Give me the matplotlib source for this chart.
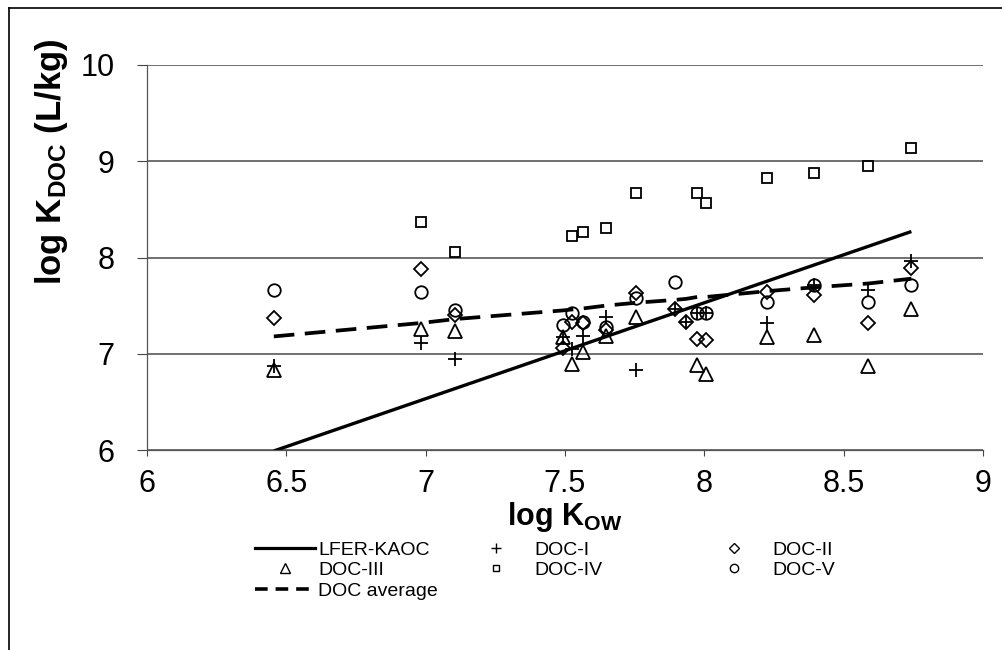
import numpy as np
import matplotlib
matplotlib.use("Agg")
import matplotlib.pyplot as plt
from matplotlib.lines import Line2D

plt.rcParams['font.family'] = ['Liberation Sans', 'DejaVu Sans']
plt.rcParams['mathtext.fontset'] = 'custom'
plt.rcParams['mathtext.rm'] = 'Liberation Sans'
plt.rcParams['mathtext.bf'] = 'Liberation Sans:bold'
plt.rcParams['mathtext.it'] = 'Liberation Sans:italic'

nan = np.nan

# ---- data ----
log_kow = [6.455, 6.985, 7.105, 7.492, 7.525, 7.563, 7.646, 7.756,
           7.896, 7.934, 7.975, 8.006, 8.224, 8.394, 8.589, 8.743]
doc_i   = [6.87, 7.115, 6.945, 7.17, 7.05, 7.18, 7.38, 6.83,
           7.47, 7.33, 7.42, 7.42, 7.32, 7.71, 7.66, 7.96]
doc_ii  = [7.375, 7.877, 7.40, 7.06, 7.33, 7.32, 7.25, 7.635,
           7.47, 7.33, 7.15, 7.14, 7.64, 7.61, 7.32, 7.89]
doc_iii = [6.83, 7.26, 7.24, 7.17, 6.89, 7.02, 7.18, 7.385,
           nan, nan, 6.88, 6.79, 7.17, 7.20, 6.875, 7.47]
doc_iv  = [nan, 8.366, 8.054, nan, 8.227, 8.262, 8.31, 8.673,
           nan, nan, 8.673, 8.57, 8.826, 8.878, 8.948, 9.135]
doc_v   = [7.66, 7.638, 7.455, 7.30, 7.42, 7.33, 7.28, 7.58,
           7.75, nan, 7.42, 7.42, 7.54, 7.71, 7.54, 7.71]
doc_avg = [7.18, 7.32, 7.36, 7.45, 7.46, 7.47, 7.50, 7.53,
           7.56, 7.57, 7.59, 7.59, 7.65, 7.69, 7.73, 7.78]
lfer_x  = [6.455, 8.743]
lfer_y  = [5.99, 8.27]

x_ticks = [6, 6.5, 7, 7.5, 8, 8.5, 9]
x_tick_labels = ["6", "6.5", "7", "7.5", "8", "8.5", "9"]
y_ticks = [6, 7, 8, 9, 10]
y_tick_labels = ["6", "7", "8", "9", "10"]

W, H = 1002, 650
fig = plt.figure(figsize=(W / 100, H / 100), dpi=100)

# outer border (chart area frame, extends beyond picture right/bottom)
fig.add_artist(Line2D([9 / W, 9 / W], [0, 1 - 8 / H], transform=fig.transFigure,
                      color='black', lw=1.2))
fig.add_artist(Line2D([9 / W, 1], [1 - 8 / H, 1 - 8 / H], transform=fig.transFigure,
                      color='black', lw=1.2))

ax = fig.add_axes([147 / W, 1 - 450 / H, (983 - 147) / W, (450 - 65) / H])
ax.set_xlim(6, 9)
ax.set_ylim(6, 10)

ax.set_xticks(x_ticks)
ax.set_xticklabels(x_tick_labels)
ax.set_yticks(y_ticks)
ax.set_yticklabels(y_tick_labels)
ax.tick_params(axis='y', direction='out', length=7.5, width=0.8, colors='#444444',
               labelcolor='black', labelsize=22, pad=16)
ax.tick_params(axis='x', direction='out', length=4, width=0.8, colors='#444444',
               labelcolor='black', labelsize=22, pad=10)

ax.yaxis.grid(True, color='#707070', lw=1.4)
ax.set_axisbelow(True)
for s in ['top', 'right']:
    ax.spines[s].set_visible(False)
for s in ['left', 'bottom']:
    ax.spines[s].set_color('#555555')
    ax.spines[s].set_linewidth(0.9)

mew = 1.3
lfer, = ax.plot(lfer_x, lfer_y, color='black', lw=2.4, solid_capstyle='butt')
avg, = ax.plot(log_kow, doc_avg, color='black', lw=2.7, dashes=(5.5, 2.8))
p1, = ax.plot(log_kow, doc_i, ls='none', marker='+', ms=10.5, mew=mew, color='black')
p2, = ax.plot(log_kow, doc_ii, ls='none', marker='D', ms=6.8, mew=mew, mfc='none', mec='black')
p3, = ax.plot(log_kow, doc_iii, ls='none', marker='^', ms=10.5, mew=mew, mfc='none', mec='black')
p4, = ax.plot(log_kow, doc_iv, ls='none', marker='s', ms=7.0, mew=mew, mfc='none', mec='black')
p5, = ax.plot(log_kow, doc_v, ls='none', marker='o', ms=9.0, mew=mew, mfc='none', mec='black')

# axis titles
fig.text(565 / W, 1 - 517 / H, r"$\mathbf{log\ K_{OW}}$", ha='center', va='center',
         fontsize=22)
fig.text(52 / W, 1 - 162 / H, r"$\mathbf{log\ K_{DOC}\ (L/kg)}$", ha='center',
         va='center', rotation=90, fontsize=25)

# legend (three columns, row-major like the original)
def mk(marker, ms):
    return Line2D([], [], ls='none', marker=marker, ms=ms, mew=1.0, mfc='none', mec='black',
                  color='black')

h_lfer = Line2D([], [], color='black', lw=2.3)
h_avg = Line2D([], [], color='black', lw=2.6, dashes=(3.5, 2.2))
leg_kw = dict(frameon=False, fontsize=14, borderpad=0, borderaxespad=0,
              labelspacing=0.15, handlelength=3.1, loc='upper left')

l1 = fig.legend([h_lfer, mk('^', 7), h_avg], ["LFER-KAOC", "DOC-III", "DOC average"],
                bbox_to_anchor=(255 / W, 1 - 541 / H), handletextpad=0.15, **leg_kw)
l2 = fig.legend([mk('+', 7), mk('s', 4.5)], ["DOC-I", "DOC-IV"],
                bbox_to_anchor=(466 / W, 1 - 541 / H), handletextpad=0.4, **leg_kw)
l3 = fig.legend([mk('D', 4.8), mk('o', 6)], ["DOC-II", "DOC-V"],
                bbox_to_anchor=(704 / W, 1 - 541 / H), handletextpad=0.4, **leg_kw)

fig.savefig("out.png", dpi=100)
